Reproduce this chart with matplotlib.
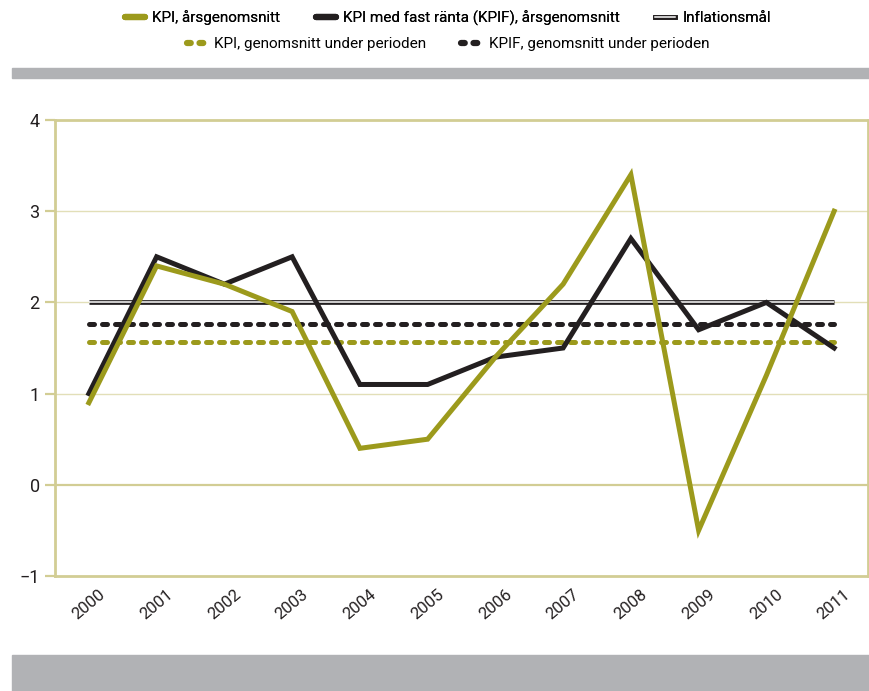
import matplotlib
matplotlib.use("Agg")
import matplotlib.pyplot as plt
from matplotlib.lines import Line2D
from matplotlib.legend_handler import HandlerTuple
from matplotlib.patches import Rectangle

plt.rcParams['font.family'] = ['Roboto', 'DejaVu Sans']

years = ['2000', '2001', '2002', '2003', '2004', '2005',
         '2006', '2007', '2008', '2009', '2010', '2011']
kpi = [0.9, 2.4, 2.2, 1.9, 0.4, 0.5, 1.4, 2.2, 3.4, -0.5, 1.2, 3.0]
kpif = [1.0, 2.5, 2.2, 2.5, 1.1, 1.1, 1.4, 1.5, 2.7, 1.7, 2.0, 1.5]
target = 2.0
kpi_avg = 1.57
kpif_avg = 1.76

green = '#9c9a1c'
black = '#231f20'
frame = '#d2cd94'
grid = '#e2dfb8'
band = '#b1b2b5'

fig = plt.figure(figsize=(8.7, 6.91), dpi=100)
ax = fig.add_axes([55 / 870, 1 - 576 / 691, 813 / 870, 456 / 691])

x = list(range(len(years)))

for y in [1, 2, 3]:
    ax.axhline(y, color=grid, lw=1.0, zorder=1)
ax.axhline(0, color=frame, lw=1.6, zorder=1)

# inflation target: double line
ax.plot([x[0], x[-1]], [target, target], color=black, lw=3.4, zorder=2,
        solid_capstyle='butt')
ax.plot([x[0], x[-1]], [target, target], color='white', lw=1.1, zorder=2.1,
        solid_capstyle='butt')

ax.plot([x[0], x[-1]], [kpi_avg, kpi_avg], color=green, lw=3.6,
        dashes=(1.0, 1.6), dash_capstyle='round', zorder=3)
ax.plot([x[0], x[-1]], [kpif_avg, kpif_avg], color=black, lw=3.6,
        dashes=(1.0, 1.6), dash_capstyle='round', zorder=3)

ax.plot(x, kpif, color=black, lw=3.6, zorder=4, solid_joinstyle='miter')
ax.plot(x, kpi, color=green, lw=3.6, zorder=5, solid_joinstyle='miter')

ax.set_xlim(-0.5, len(years) - 0.5)
ax.set_ylim(-1, 4)
ax.set_yticks([-1, 0, 1, 2, 3, 4])
ax.set_yticklabels(['\u22121', '0', '1', '2', '3', '4'])
ax.set_xticks(x)
ax.set_xticklabels(years, rotation=40, ha='center')
ax.tick_params(axis='x', length=0, pad=8, labelsize=12, colors=black)
ax.tick_params(axis='y', length=7, width=1.6, color=frame, pad=4,
               labelsize=13, labelcolor=black)
for s in ax.spines.values():
    s.set_color(frame)
    s.set_linewidth(2)

# gray bands
fig.patches.append(Rectangle((12 / 870, 1 - 78 / 691), 858 / 870, 10 / 691,
                             transform=fig.transFigure, color=band, zorder=0))
fig.patches.append(Rectangle((12 / 870, 0), 858 / 870, 36 / 691,
                             transform=fig.transFigure, color=band, zorder=0))

# legend
h_kpi = Line2D([], [], color=green, lw=4.5, solid_capstyle='round')
h_kpif = Line2D([], [], color=black, lw=4.5, solid_capstyle='round')
h_t1 = Line2D([], [], color=black, lw=3.4)
h_t2 = Line2D([], [], color='white', lw=1.1)
h_kpi_avg = Line2D([], [], color=green, lw=4.5, dashes=(0.6, 1.4),
                   dash_capstyle='round')
h_kpif_avg = Line2D([], [], color=black, lw=4.5, dashes=(0.6, 1.4),
                    dash_capstyle='round')

leg1 = fig.legend([h_kpi, h_kpif, (h_t1, h_t2)],
                  ['KPI, årsgenomsnitt', 'KPI med fast ränta (KPIF), årsgenomsnitt',
                   'Inflationsmål'],
                  handler_map={tuple: HandlerTuple(ndivide=1, pad=0)},
                  loc='center', bbox_to_anchor=(0.515, 1 - 18 / 691), ncol=3,
                  frameon=False, fontsize=11, handlelength=1.3,
                  handletextpad=0.5, columnspacing=2.3)
fig.add_artist(leg1)
fig.legend([h_kpi_avg, h_kpif_avg],
           ['KPI, genomsnitt under perioden', 'KPIF, genomsnitt under perioden'],
           loc='center', bbox_to_anchor=(0.515, 1 - 44 / 691), ncol=2,
           frameon=False, fontsize=11, handlelength=1.3,
           handletextpad=0.5, columnspacing=2.3)

fig.savefig('out.png', dpi=100)
